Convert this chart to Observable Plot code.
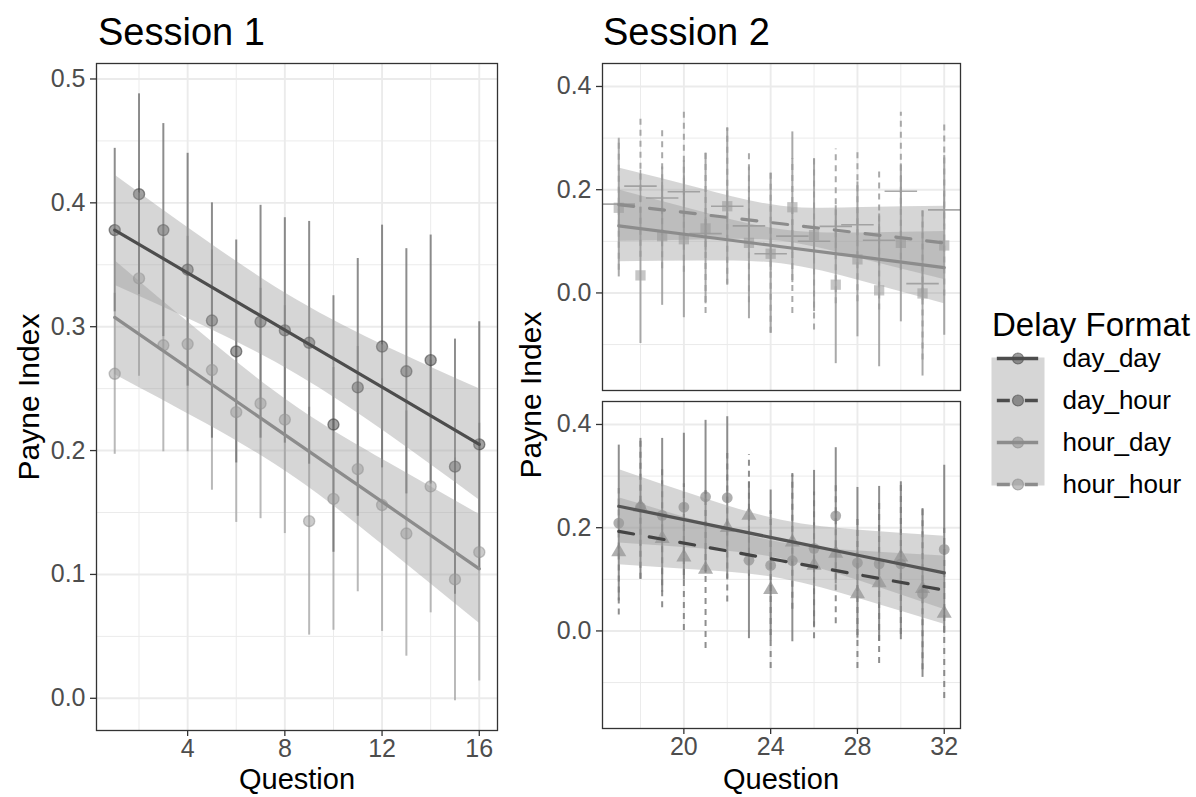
<!DOCTYPE html>
<html>
<head>
<meta charset="utf-8">
<script src="https://cdn.jsdelivr.net/npm/d3@7"></script>
<script src="https://cdn.jsdelivr.net/npm/@observablehq/plot@0.6"></script>
<style>
  body { margin: 0; background: #fff; }
  #chart { position: relative; width: 1196px; height: 797px; overflow: hidden; background: #fff; }
  #chart svg { position: absolute; max-width: none; }
</style>
</head>
<body>
<div id="chart"></div>
<script>
// ---------- Session 1: questions 1–16 ----------
const s1Questions = [1, 2, 3, 4, 5, 6, 7, 8, 9, 10, 11, 12, 13, 14, 15, 16];
const s1DayMean  = [0.378, 0.407, 0.378, 0.346, 0.305, 0.280, 0.304, 0.297, 0.287, 0.221, 0.251, 0.284, 0.264, 0.273, 0.187, 0.205];
const s1DayLow   = [0.312, 0.326, 0.292, 0.252, 0.210, 0.190, 0.210, 0.206, 0.189, 0.118, 0.147, 0.186, 0.165, 0.173, 0.084, 0.105];
const s1DayHigh  = [0.444, 0.488, 0.464, 0.440, 0.400, 0.370, 0.398, 0.388, 0.385, 0.325, 0.355, 0.382, 0.363, 0.374, 0.290, 0.304];
const s1HourMean = [0.262, 0.339, 0.285, 0.286, 0.265, 0.231, 0.238, 0.225, 0.143, 0.161, 0.185, 0.156, 0.133, 0.171, 0.096, 0.118];
const s1HourLow  = [0.197, 0.260, 0.199, 0.199, 0.168, 0.142, 0.145, 0.133, 0.051, 0.055, 0.086, 0.054, 0.034, 0.069, -0.002, 0.014];
const s1HourHigh = [0.327, 0.418, 0.371, 0.373, 0.362, 0.320, 0.331, 0.317, 0.235, 0.267, 0.284, 0.258, 0.232, 0.273, 0.194, 0.222];

// linear fits with their 95% bands, at five points along the question range
const s1FitQuestions = [1, 4.75, 8.5, 12.25, 16];
const s1DayFit      = [0.378, 0.3348, 0.2915, 0.2483, 0.205];
const s1DayFitLow   = [0.3335, 0.2998, 0.2615, 0.2133, 0.160];
const s1DayFitHigh  = [0.4225, 0.3698, 0.3215, 0.2833, 0.250];
const s1HourFit     = [0.3075, 0.2568, 0.206, 0.1553, 0.1045];
const s1HourFitLow  = [0.2615, 0.2218, 0.177, 0.1203, 0.0605];
const s1HourFitHigh = [0.3535, 0.2918, 0.235, 0.1903, 0.1485];

// ---------- Session 2: questions 17–32 ----------
const s2Questions = [17, 18, 19, 20, 21, 22, 23, 24, 25, 26, 27, 28, 29, 30, 31, 32];
// hour_day (squares, solid)
const hourDayMean = [0.165, 0.034, 0.110, 0.104, 0.125, 0.168, 0.097, 0.076, 0.166, 0.112, 0.016, 0.065, 0.005, 0.097, -0.001, 0.092];
const hourDayLow  = [0.031, -0.098, -0.024, -0.048, -0.021, 0.017, -0.050, -0.078, 0.020, -0.036, -0.137, -0.085, -0.143, -0.056, -0.161, -0.082];
const hourDayHigh = [0.299, 0.166, 0.244, 0.256, 0.271, 0.319, 0.244, 0.232, 0.312, 0.260, 0.169, 0.215, 0.153, 0.250, 0.159, 0.266];
// hour_hour (plus, dashed)
const hourHourMean = [0.172, 0.207, 0.184, 0.196, 0.115, 0.168, 0.130, 0.076, 0.110, 0.100, 0.129, 0.132, 0.102, 0.197, 0.018, 0.161];
const hourHourLow  = [0.044, 0.069, 0.047, 0.040, -0.040, 0.015, -0.019, -0.078, -0.040, -0.072, -0.021, -0.017, -0.033, 0.044, -0.130, -0.006];
const hourHourHigh = [0.300, 0.344, 0.321, 0.350, 0.270, 0.320, 0.279, 0.232, 0.260, 0.262, 0.279, 0.281, 0.237, 0.350, 0.166, 0.328];
// day_day (circles, solid)
const dayDayMean = [0.209, 0.240, 0.224, 0.240, 0.260, 0.258, 0.137, 0.127, 0.136, 0.160, 0.223, 0.132, 0.130, 0.130, 0.072, 0.158];
const dayDayLow  = [0.058, 0.100, 0.075, 0.098, 0.112, 0.101, -0.015, -0.019, -0.021, 0.009, 0.091, -0.014, -0.020, -0.017, -0.090, -0.005];
const dayDayHigh = [0.360, 0.373, 0.373, 0.383, 0.408, 0.415, 0.289, 0.273, 0.305, 0.311, 0.355, 0.278, 0.280, 0.289, 0.237, 0.321];
// day_hour (triangles, dashed)
const dayHourMean = [0.153, 0.240, 0.179, 0.143, 0.119, 0.200, 0.224, 0.080, 0.172, 0.127, 0.150, 0.072, 0.093, 0.143, 0.082, 0.034];
const dayHourLow  = [0.031, 0.100, 0.045, 0.001, -0.034, 0.056, 0.106, -0.073, 0.042, -0.015, 0.014, -0.073, -0.063, -0.007, -0.075, -0.131];
const dayHourHigh = [0.276, 0.373, 0.313, 0.285, 0.272, 0.344, 0.342, 0.233, 0.302, 0.269, 0.286, 0.217, 0.249, 0.289, 0.240, 0.199];

const s2FitQuestions = [17, 20.75, 24.5, 28.25, 32];
const hourDayFit      = [0.130, 0.1098, 0.0895, 0.0693, 0.049];
const hourDayFitLow   = [0.0605, 0.0618, 0.0565, 0.0223, -0.021];
const hourDayFitHigh  = [0.1995, 0.1578, 0.1225, 0.1163, 0.119];
const hourHourFit     = [0.171, 0.1525, 0.134, 0.1155, 0.097];
const hourHourFitLow  = [0.100, 0.1025, 0.100, 0.0655, 0.026];
const hourHourFitHigh = [0.242, 0.2025, 0.168, 0.1655, 0.168];
const dayDayFit       = [0.2416, 0.2093, 0.177, 0.1447, 0.1124];
const dayDayFitLow    = [0.1706, 0.1593, 0.1395, 0.0947, 0.0414];
const dayDayFitHigh   = [0.3126, 0.2593, 0.2145, 0.1947, 0.1834];
const dayHourFit      = [0.193, 0.1645, 0.136, 0.1075, 0.079];
const dayHourFitLow   = [0.128, 0.1175, 0.101, 0.0605, 0.013];
const dayHourFitHigh  = [0.258, 0.2115, 0.171, 0.1545, 0.145];

// ---------- axes and legend ----------
const s1XTicks = [4, 8, 12, 16];
const s1XMinor = [2, 6, 10, 14];
const s1YTicks = [0, 0.1, 0.2, 0.3, 0.4, 0.5];
const s1YMinor = [0.05, 0.15, 0.25, 0.35, 0.45];
const s2XTicks = [20, 24, 28, 32];
const s2XMinor = [18, 22, 26, 30];
const s2YTicks = [0, 0.2, 0.4];
const s2YMinor = [-0.1, 0.1, 0.3];
const formats = ["day_day", "day_hour", "hour_day", "hour_hour"];

// ---------- helpers ----------
const FONT = '"Liberation Sans", Arial, Helvetica, sans-serif';
const DAY = "#4d4d4d";
const HOUR = "#8c8c8c";
const rows = (qs, mean, lo, hi) => qs.map((q, i) => ({q, mean: mean[i], lo: lo[i], hi: hi[i]}));
const fitRows = (qs, fit, lo, hi) => qs.map((q, i) => ({q, fit: fit[i], lo: lo[i], hi: hi[i]}));

function grid(xMajor, xMinor, yMajor, yMinor) {
  return [
    Plot.ruleX(xMinor, {stroke: "#ebebeb", strokeWidth: 1}),
    Plot.ruleY(yMinor, {stroke: "#ebebeb", strokeWidth: 1}),
    Plot.ruleX(xMajor, {stroke: "#ebebeb", strokeWidth: 1.9}),
    Plot.ruleY(yMajor, {stroke: "#ebebeb", strokeWidth: 1.9})
  ];
}
function yAxis(ticks) {
  return Plot.axisY(ticks, {
    tickSize: 6, tickPadding: 5, tickFormat: d => d.toFixed(1), label: null,
    stroke: "#333333", strokeWidth: 1.3, fill: "#4d4d4d", fontSize: 25
  });
}
function xAxis(ticks) {
  return Plot.axisX(ticks, {
    tickSize: 6, tickPadding: 3, tickFormat: d => String(d), label: null,
    stroke: "#333333", strokeWidth: 1.3, fill: "#4d4d4d", fontSize: 25
  });
}
function errorBars(data, color, opacity, dashed) {
  return Plot.ruleX(data, {
    x: "q", y1: "lo", y2: "hi", stroke: color, strokeOpacity: opacity, strokeWidth: 2,
    strokeDasharray: dashed ? "6,5" : null
  });
}
function band(data) {
  return Plot.areaY(data, {x: "q", y1: "lo", y2: "hi", fill: "#999999", fillOpacity: 0.4, curve: "natural"});
}
function fitLine(data, color, dashed) {
  return Plot.line(data, {
    x: "q", y: "fit", stroke: color, strokeWidth: 3.2,
    strokeDasharray: dashed ? "15,16" : null
  });
}
const frame = Plot.frame({stroke: "#333333", strokeWidth: 1.3});
const baseStyle = {fontFamily: FONT, fontSize: "25px", color: "#4d4d4d", background: "transparent", overflow: "visible"};

const chart = document.getElementById("chart");
function place(el, left, top) {
  el.style.left = left + "px";
  el.style.top = top + "px";
  chart.appendChild(el);
}

// ---------- Session 1 panel ----------
const s1Day = rows(s1Questions, s1DayMean, s1DayLow, s1DayHigh);
const s1Hour = rows(s1Questions, s1HourMean, s1HourLow, s1HourHigh);
const s1DayBand = fitRows(s1FitQuestions, s1DayFit, s1DayFitLow, s1DayFitHigh);
const s1HourBand = fitRows(s1FitQuestions, s1HourFit, s1HourFitLow, s1HourFitHigh);

const panel1 = Plot.plot({
  width: 510, height: 797,
  marginLeft: 96, marginRight: 13, marginTop: 63, marginBottom: 67,
  style: baseStyle,
  x: {domain: [0.25, 16.75]},
  y: {domain: [-0.026, 0.5125]},
  marks: [
    ...grid(s1XTicks, s1XMinor, s1YTicks, s1YMinor),
    errorBars(s1Hour, "#a8a8a8", 0.8, false),
    errorBars(s1Day, "#707070", 0.8, false),
    Plot.dot(s1Hour, {x: "q", y: "mean", r: 5.5, fill: "#9a9a9a", fillOpacity: 0.5, stroke: "#8c8c8c", strokeOpacity: 0.5, strokeWidth: 1.4}),
    Plot.dot(s1Day, {x: "q", y: "mean", r: 5.5, fill: "#555555", fillOpacity: 0.55, stroke: "#444444", strokeOpacity: 0.6, strokeWidth: 1.4}),
    band(s1DayBand),
    band(s1HourBand),
    fitLine(s1HourBand, HOUR, false),
    fitLine(s1DayBand, DAY, false),
    xAxis(s1XTicks),
    yAxis(s1YTicks),
    frame
  ]
});
place(panel1, 0, 0);

// ---------- Session 2, upper panel: hour_day and hour_hour ----------
const hd = rows(s2Questions, hourDayMean, hourDayLow, hourDayHigh);
const hh = rows(s2Questions, hourHourMean, hourHourLow, hourHourHigh);
const hdBand = fitRows(s2FitQuestions, hourDayFit, hourDayFitLow, hourDayFitHigh);
const hhBand = fitRows(s2FitQuestions, hourHourFit, hourHourFitLow, hourHourFitHigh);
const s2X = {domain: [16.25, 32.75]};
const s2Y = {domain: [-0.189, 0.4445]};

const panel2a = Plot.plot({
  width: 465, height: 395,
  marginLeft: 92, marginRight: 15, marginTop: 63, marginBottom: 5,
  style: baseStyle,
  x: {...s2X, axis: null},
  y: s2Y,
  marks: [
    ...grid(s2XTicks, s2XMinor, s2YTicks, s2YMinor),
    errorBars(hd, "#9a9a9a", 0.85, false),
    errorBars(hh, "#9a9a9a", 0.85, true),
    Plot.dot(hd, {x: "q", y: "mean", symbol: "square", r: 5.8, fill: "#a0a0a0", fillOpacity: 0.6, stroke: "none"}),
    Plot.dot(hh, {x: "q", y: "mean", symbol: "plus", r: 10.5, fill: "none", stroke: "#9a9a9a", strokeOpacity: 0.85, strokeWidth: 1.6}),
    band(hdBand),
    band(hhBand),
    fitLine(hdBand, HOUR, false),
    fitLine(hhBand, HOUR, true),
    yAxis(s2YTicks),
    frame
  ]
});
place(panel2a, 510, 0);

// ---------- Session 2, lower panel: day_day and day_hour ----------
const dd = rows(s2Questions, dayDayMean, dayDayLow, dayDayHigh);
const dh = rows(s2Questions, dayHourMean, dayHourLow, dayHourHigh);
const ddBand = fitRows(s2FitQuestions, dayDayFit, dayDayFitLow, dayDayFitHigh);
const dhBand = fitRows(s2FitQuestions, dayHourFit, dayHourFitLow, dayHourFitHigh);

const panel2b = Plot.plot({
  width: 465, height: 402,
  marginLeft: 92, marginRight: 15, marginTop: 6, marginBottom: 69,
  style: baseStyle,
  x: s2X,
  y: s2Y,
  marks: [
    ...grid(s2XTicks, s2XMinor, s2YTicks, s2YMinor),
    errorBars(dd, "#7a7a7a", 0.85, false),
    errorBars(dh, "#7a7a7a", 0.85, true),
    Plot.dot(dd, {x: "q", y: "mean", symbol: "circle", r: 5.4, fill: "#7a7a7a", fillOpacity: 0.6, stroke: "none"}),
    Plot.dot(dh, {x: "q", y: "mean", symbol: "triangle", r: 5.6, fill: "#7a7a7a", fillOpacity: 0.6, stroke: "none"}),
    band(ddBand),
    band(dhBand),
    fitLine(ddBand, "#555555", false),
    fitLine(dhBand, "#444444", true),
    xAxis(s2XTicks),
    yAxis(s2YTicks),
    frame
  ]
});
place(panel2b, 510, 395);

// ---------- legend keys ----------
const legendRows = formats.map(f => ({
  f,
  color: f.startsWith("day") ? DAY : HOUR,
  dashed: f.endsWith("_hour")
}));
const legend = Plot.plot({
  width: 236, height: 200,
  marginLeft: 31, marginRight: 152, marginTop: 57, marginBottom: 15,
  style: {...baseStyle, color: "#000"},
  x: {domain: [0, 1], axis: null},
  y: {domain: formats, axis: null, padding: 0},
  marks: [
    Plot.frame({fill: "#999999", fillOpacity: 0.4, stroke: "none"}),
    Plot.ruleX(legendRows, {x: 0.5, y: "f", stroke: "color", strokeOpacity: 0.6, strokeWidth: 1.6, insetTop: 4, insetBottom: 4}),
    Plot.ruleY(legendRows.filter(d => !d.dashed), {y: "f", x1: 0.11, x2: 0.89, stroke: "color", strokeWidth: 3.5}),
    Plot.ruleY(legendRows.filter(d => d.dashed), {y: "f", x1: 0.11, x2: 0.89, stroke: "color", strokeWidth: 3.5, strokeDasharray: "13,15"}),
    Plot.dot(legendRows, {x: 0.5, y: "f", r: 5.5, fill: "color", fillOpacity: 0.55, stroke: "color", strokeOpacity: 0.6, strokeWidth: 1.2}),
    Plot.text(legendRows, {x: 1, y: "f", text: "f", dx: 18, textAnchor: "start", fontSize: 26, fill: "#000"})
  ]
});
place(legend, 960, 300);

// ---------- titles ----------
const titles = d3.create("svg")
  .attr("width", 1196).attr("height", 797)
  .attr("font-family", FONT)
  .style("left", "0px").style("top", "0px").style("pointer-events", "none");
const label = (txt, x, y, size, opts = {}) => {
  const t = titles.append("text").attr("x", x).attr("y", y)
    .attr("font-size", size).attr("fill", "#000").text(txt);
  if (opts.anchor) t.attr("text-anchor", opts.anchor);
  if (opts.rotate) t.attr("transform", `rotate(-90 ${x} ${y})`);
  return t;
};
label("Session 1", 98, 45, 38);
label("Session 2", 603, 45, 38);
label("Payne Index", 39, 397, 30, {anchor: "middle", rotate: true});
label("Payne Index", 541, 395, 30, {anchor: "middle", rotate: true});
label("Question", 297, 789, 29, {anchor: "middle"});
label("Question", 781, 789, 29, {anchor: "middle"});
label("Delay Format", 992, 336, 33);
chart.appendChild(titles.node());
</script>
</body>
</html>
